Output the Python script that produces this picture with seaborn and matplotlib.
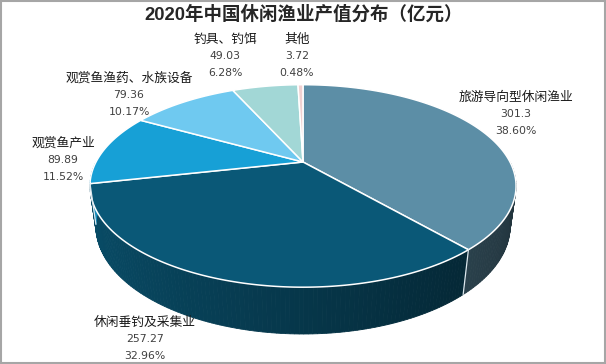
import numpy as np
import matplotlib
matplotlib.use("Agg")
import matplotlib.pyplot as plt
import seaborn as sns
from matplotlib.patches import Polygon, Rectangle

# data
categories = ["旅游导向型休闲渔业", "休闲垂钓及采集业", "观赏鱼产业",
              "观赏鱼渔药、水族设备", "钓具、钓饵", "其他"]
values = [301.3, 257.27, 89.89, 79.36, 49.03, 3.72]
value_labels = ["301.3", "257.27", "89.89", "79.36", "49.03", "3.72"]
percent_labels = ["38.60%", "32.96%", "11.52%", "10.17%", "6.28%", "0.48%"]
title = "2020年中国休闲渔业产值分布（亿元）"

sns.set_theme(style="white")
plt.rcParams["font.family"] = ["Noto Sans CJK SC", "DejaVu Sans"]
palette = sns.color_palette(["#5C8EA6", "#0A5877", "#17A0D6",
                             "#6FC9F0", "#A2D7D6", "#F0D0D0"])

# layout (pixel space) + simple perspective camera
cx, cy, S = 303, 162, 207
tilt = np.radians(27.5)
cam = 3.75
height = 0.22
label_pos = [(516, 97), (145, 322), (63, 143), (129, 78), (225, 39), (297, 39)]
line_gap = 17

fig = plt.figure(figsize=(6.06, 3.64), dpi=100)
ax = fig.add_axes([0, 0, 1, 1])
ax.set_xlim(0, 606)
ax.set_ylim(364, 0)
ax.axis("off")


def proj(X, Z, Y=0.0):
    yp = Y * np.cos(tilt) + Z * np.sin(tilt)
    zp = Z * np.cos(tilt) - Y * np.sin(tilt)
    k = cam / (cam + zp)
    return cx + S * X * k, cy - S * yp * k


def pt(theta, bottom=False):
    t = np.radians(theta)
    return proj(np.cos(t), np.sin(t), -height if bottom else 0.0)


total = sum(values)
fracs = np.array(values) / total
starts = 90 - 360 * np.concatenate([[0], np.cumsum(fracs)[:-1]])
ends = 90 - 360 * np.cumsum(fracs)

# side walls (front half only), shaded by angle
for s, e, col in zip(starts, ends, palette):
    lo, hi = max(e, -180), min(s, 0)
    if hi <= lo:
        continue
    grid = np.linspace(lo, hi, max(int(hi - lo) + 2, 2))
    for a, b in zip(grid[:-1], grid[1:]):
        m = np.radians((a + b) / 2)
        f = 0.62 - 0.25 * np.cos(m)
        c = tuple(np.clip(np.array(col) * f, 0, 1))
        poly = [pt(a), pt(b), pt(b, True), pt(a, True)]
        ax.add_patch(Polygon(poly, closed=True, facecolor=c, edgecolor=c, lw=0.6))

# light seams on the wall
for s in starts:
    if -180 < s < 0:
        p0, p1 = pt(s), pt(s, True)
        ax.plot([p0[0], p1[0]], [p0[1], p1[1]], color="#DDE8EE", lw=0.9)

# top faces
for s, e, col in zip(starts, ends, palette):
    arc = np.linspace(s, e, max(int(abs(s - e)) * 2, 3))
    poly = [(cx, cy)] + [pt(a) for a in arc]
    ax.add_patch(Polygon(poly, closed=True, facecolor=col, edgecolor="white", lw=1.1))

# labels
for (x, y), name, v, p in zip(label_pos, categories, value_labels, percent_labels):
    ax.text(x, y, name, ha="center", va="center", fontsize=9.2, color="#1A1A1A")
    ax.text(x, y + line_gap, v, ha="center", va="center", fontsize=7.8,
            color="#404040", family="DejaVu Sans")
    ax.text(x, y + 2 * line_gap, p, ha="center", va="center", fontsize=7.8,
            color="#404040", family="DejaVu Sans")

ax.text(304, 15, title, ha="center", va="center", fontsize=13.3, fontweight="bold",
        color="#262626", family=["Liberation Sans", "Noto Sans CJK SC"])

ax.add_patch(Rectangle((0.75, 0.75), 604.5, 362.5, fill=False, edgecolor="#A6A6A6", lw=1.5))

fig.savefig("out.png", dpi=100, facecolor="white")
